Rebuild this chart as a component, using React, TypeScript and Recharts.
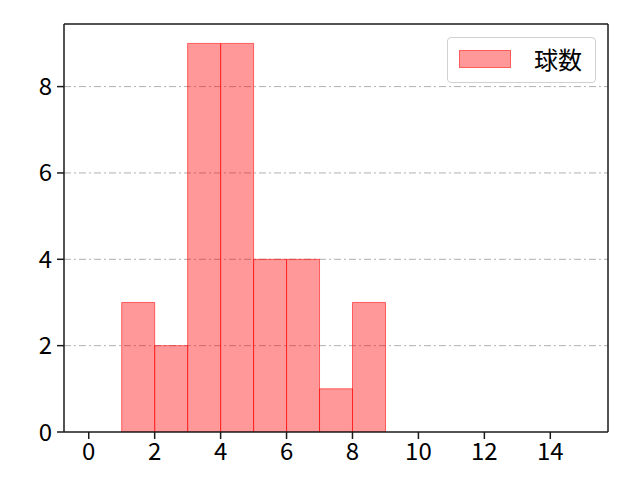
import React from 'react';
import { ComposedChart, Bar, XAxis, YAxis, CartesianGrid, ReferenceLine } from 'recharts';

// histogram bins (left edge, width 1) and their counts
const binStarts = [1, 2, 3, 4, 5, 6, 7, 8];
const counts = [3, 2, 9, 9, 4, 4, 1, 3];
const xTicks = [0, 2, 4, 6, 8, 10, 12, 14];
const yTicks = [0, 2, 4, 6, 8];
const xDomain: [number, number] = [-0.75, 15.75];
const yDomain: [number, number] = [0, 9.45];
const seriesName = '球数';

const data = binStarts.map((s, i) => ({ x: s + 0.5, count: counts[i] }));

const FONT = '"Noto Sans CJK JP", "Noto Sans", sans-serif';
const tickStyle = { fill: '#000', fontSize: 24, fontFamily: FONT };
const SPINE = '#1a1a1a';

const App: React.FC = () => {
  return (
    <div style={{ position: 'absolute', left: 0, top: 0, width: 640, height: 480, background: '#fff' }}>
      <ComposedChart
        width={640}
        height={480}
        data={data}
        margin={{ top: 24, right: 32, left: 0, bottom: 0 }}
        barCategoryGap={0}
        barGap={0}
      >
        <CartesianGrid
          horizontal
          vertical={false}
          stroke="#b0b0b0"
          strokeWidth={1}
          strokeDasharray="7 3 2 3"
          horizontalValues={[2, 4, 6, 8]}
        />
        <XAxis
          dataKey="x"
          type="number"
          domain={xDomain}
          ticks={xTicks}
          allowDataOverflow
          height={48}
          tick={tickStyle}
          tickSize={7}
          tickMargin={4}
          stroke={SPINE}
          strokeWidth={1.5}
          interval={0}
        />
        <YAxis
          type="number"
          domain={yDomain}
          ticks={yTicks}
          allowDataOverflow
          width={64}
          tick={tickStyle}
          tickSize={7}
          tickMargin={5}
          stroke={SPINE}
          strokeWidth={1.5}
          interval={0}
        />
        <Bar
          dataKey="count"
          name={seriesName}
          fill="#ff0000"
          fillOpacity={0.4}
          stroke="#ff0000"
          strokeOpacity={0.55}
          strokeWidth={1}
          isAnimationActive={false}
        />
        {/* top and right spines */}
        <ReferenceLine y={yDomain[1]} stroke={SPINE} strokeWidth={1.5} />
        <ReferenceLine x={xDomain[1]} stroke={SPINE} strokeWidth={1.5} />
      </ComposedChart>
      <div
        style={{
          position: 'absolute',
          left: 447,
          top: 37,
          width: 147,
          height: 44,
          border: '1px solid #d0d0d0',
          borderRadius: 4,
          background: 'rgba(255,255,255,0.8)',
          fontFamily: FONT,
          fontSize: 24,
        }}
      >
        <div
          style={{
            position: 'absolute',
            left: 11,
            top: 12,
            width: 52,
            height: 18,
            background: 'rgba(255,0,0,0.4)',
            border: '1px solid rgba(255,0,0,0.4)',
            boxSizing: 'border-box',
          }}
        />
        <div style={{ position: 'absolute', left: 86, top: 4, lineHeight: '34px', color: '#000' }}>{seriesName}</div>
      </div>
    </div>
  );
};

export default App;
